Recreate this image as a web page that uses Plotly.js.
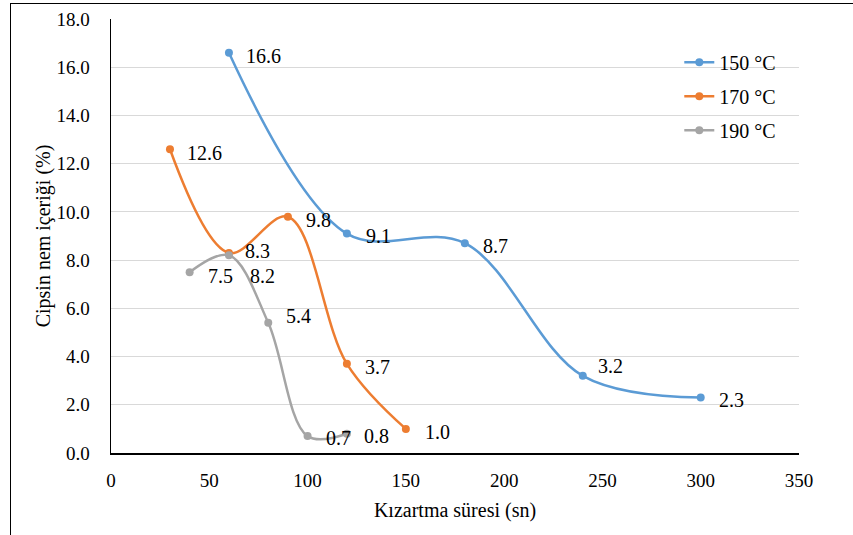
<!DOCTYPE html>
<html>
<head>
<meta charset="utf-8">
<script src="https://cdn.plot.ly/plotly-3.0.1.min.js"></script>
<style>
  html, body { margin:0; padding:0; background:#fff; overflow:hidden; }
  #frame { position:absolute; left:10px; top:3px; width:900px; height:600px; border:1.5px solid #000; box-sizing:border-box; }
  #chart { position:absolute; left:0; top:0; width:853px; height:535px; }
</style>
</head>
<body>
<div id="frame"></div>
<div id="chart"></div>
<script>
// Data
const seriesNames = ['150 °C', '170 °C', '190 °C'];
const x150 = [60, 120, 180, 240, 300];
const y150 = [16.6, 9.1, 8.7, 3.2, 2.3];
const x170 = [30, 60, 90, 120, 150];
const y170 = [12.6, 8.3, 9.8, 3.7, 1.0];
const x190 = [40, 60, 80, 100, 120];
const y190 = [7.5, 8.2, 5.4, 0.7, 0.8];
const xTicks = [0, 50, 100, 150, 200, 250, 300, 350];
const yTicks = [0, 2, 4, 6, 8, 10, 12, 14, 16, 18];

// Styles
const colors = ['#5b9bd5', '#ed7d31', '#a5a5a5'];
const serif = 'Liberation Serif';
// label pixel offsets [xshift, yshift] per point
const off150 = [[15, -3], [17, -2], [16, -3], [13, 10], [16, -2]];
const off170 = [[15, -4], [14, 2], [16, -3], [16, -3], [17, -3]];
const off190 = [[16, -4], [19, -21], [16, 7], [16, -2], [15, -2]];

const xs = [x150, x170, x190];
const ys = [y150, y170, y190];
const offs = [off150, off170, off190];

const traces = xs.map((x, i) => ({
  x: x, y: ys[i], name: seriesNames[i], type: 'scatter', mode: 'lines+markers',
  legendgroup: 'g' + i,
  line: { color: colors[i], width: 2.5, shape: 'spline', smoothing: 1 },
  marker: { color: colors[i], size: 8 },
  cliponaxis: false
}));

const annotations = [];
xs.forEach((x, i) => {
  x.forEach((xv, j) => {
    annotations.push({
      x: xv, y: ys[i][j], xref: 'x', yref: 'y',
      text: ys[i][j].toFixed(1), showarrow: false,
      xanchor: 'left', yanchor: 'middle',
      xshift: offs[i][j][0], yshift: offs[i][j][1],
      font: { family: serif, size: 20, color: '#000' }
    });
  });
});

const layout = {
  width: 853, height: 535,
  margin: { l: 111, r: 54, t: 19, b: 82 },
  paper_bgcolor: 'rgba(0,0,0,0)',
  plot_bgcolor: 'rgba(0,0,0,0)',
  font: { family: serif, size: 19, color: '#000' },
  showlegend: true,
  legend: {
    x: 0.826, y: 0.945, xanchor: 'left', yanchor: 'top',
    bgcolor: 'rgba(0,0,0,0)', tracegroupgap: 5,
    font: { family: serif, size: 20, color: '#000' }
  },
  xaxis: {
    range: [0, 350], tickvals: xTicks, ticktext: xTicks.map(String),
    showgrid: false, zeroline: false, showline: true, linecolor: '#000', linewidth: 1.5,
    ticks: '', ticklabelstandoff: 10, tickfont: { family: serif, size: 19 },
    title: { text: 'Kızartma süresi (sn)', font: { family: serif, size: 20 }, standoff: 12 }
  },
  yaxis: {
    range: [0, 18], tickvals: yTicks, ticktext: yTicks.map(v => v.toFixed(1)),
    showgrid: true, gridcolor: '#d9d9d9', gridwidth: 1,
    zeroline: false, showline: true, linecolor: '#000', linewidth: 1.5,
    ticks: '', ticklabelstandoff: 16, tickfont: { family: serif, size: 19 },
    title: { text: 'Cipsin nem içeriği (%)', font: { family: serif, size: 20 }, standoff: 0 }
  },
  annotations: annotations
};

Plotly.newPlot('chart', traces, layout, { displayModeBar: false, staticPlot: true });
</script>
</body>
</html>
